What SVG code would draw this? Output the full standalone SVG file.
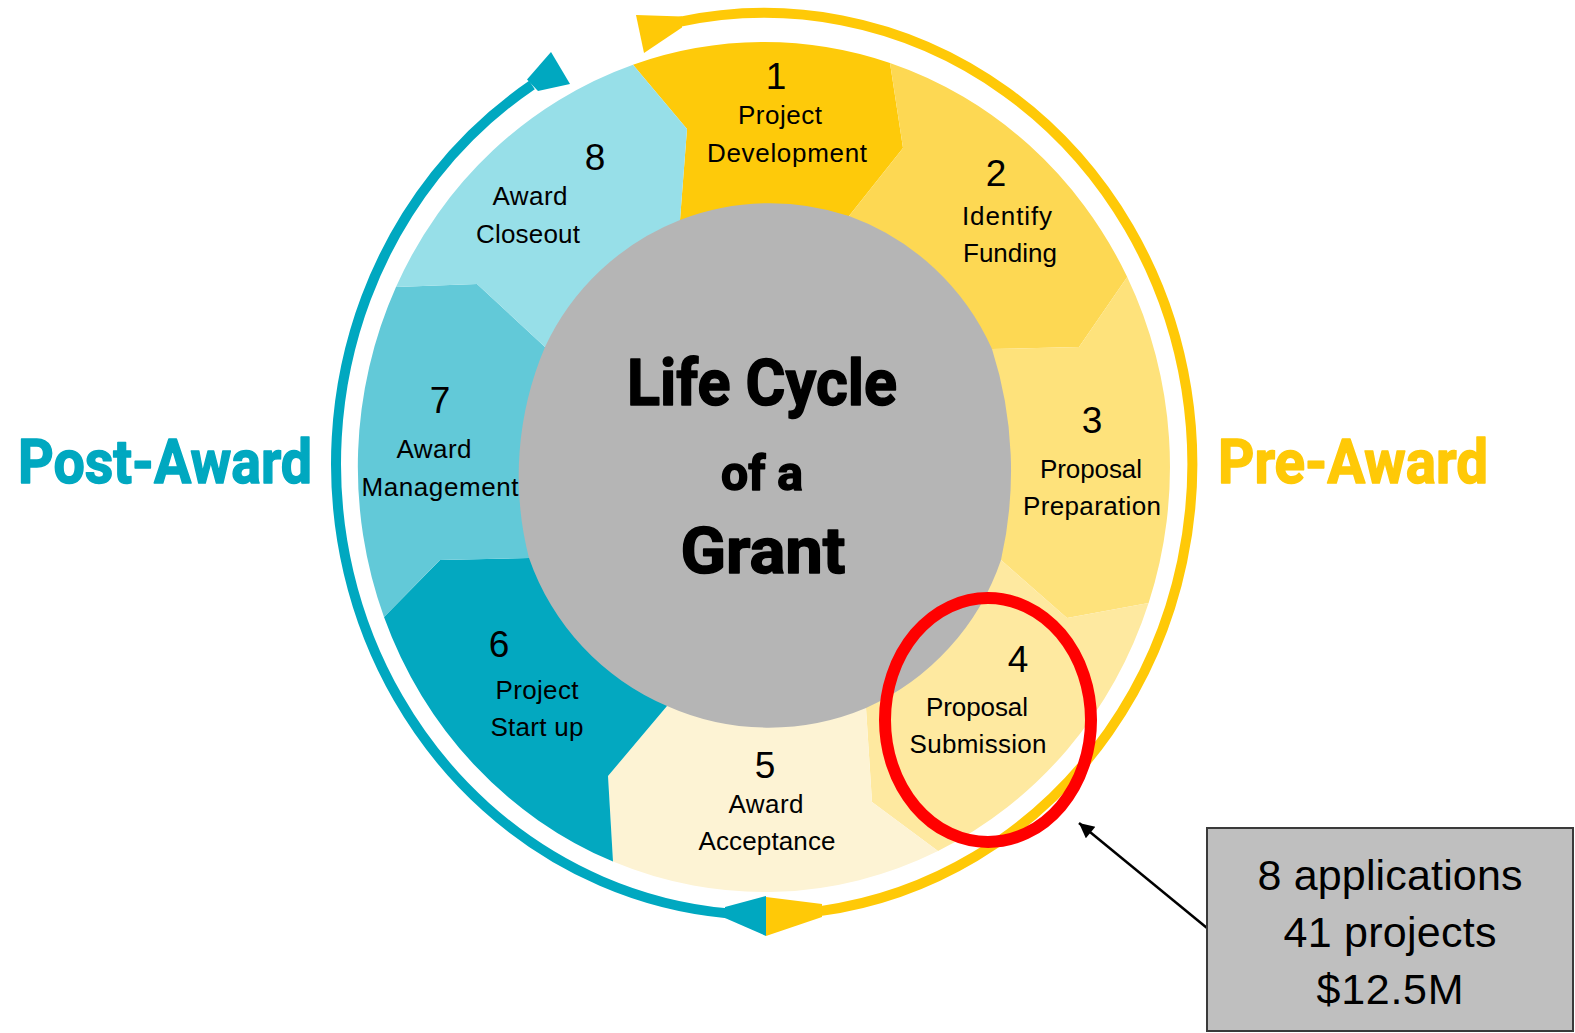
<svg xmlns="http://www.w3.org/2000/svg" width="1575" height="1033" viewBox="0 0 1575 1033">
<defs>
<style>
.lbl{font-family:"Liberation Sans",Arial,sans-serif;font-size:26px;fill:#000;text-anchor:middle}
.num{font-family:"Liberation Sans",Arial,sans-serif;font-size:37px;fill:#000;text-anchor:middle}
.title{font-family:Roboto,"Liberation Sans",Arial,sans-serif;font-weight:700;fill:#000;stroke:#000;stroke-width:1.5;stroke-linejoin:round;text-anchor:middle}
.side{font-family:Roboto,"Liberation Sans",Arial,sans-serif;font-weight:700;font-size:62px;stroke-width:1.5;stroke-linejoin:round;text-anchor:middle}
.box{font-family:"Liberation Sans",Arial,sans-serif;font-size:43px;fill:#000;text-anchor:middle}
.arc{fill:none;stroke-width:10}
</style>
<marker id="ah" viewBox="0 0 10 10" refX="10" refY="5" markerWidth="7" markerHeight="6" markerUnits="strokeWidth" orient="auto">
<path d="M0,0 L10,5 L0,10 Z" fill="#000"/>
</marker>
</defs>
<rect width="1575" height="1033" fill="#fff"/>

<g id="node-1"><path d="M633,64.7 A406,425 0 0 1 890,63 L903,148 L849,216 L763,467 L680,220 L687,129 Z" fill="#FECA0A"/></g>
<g id="node-2"><path d="M890,63 A406,425 0 0 1 1127.2,277 L1079,347 L992,349 L763,467 L849,216 L903,148 Z" fill="#FDD853"/></g>
<g id="node-3"><path d="M1127.2,277 A406,425 0 0 1 1148.6,603 L1067,618 L1001,560 L763,467 L992,349 L1079,347 Z" fill="#FEE27B"/></g>
<g id="node-4"><path d="M1148.6,603 A406,425 0 0 1 938,851 L872,802 L866,708 L763,467 L1001,560 L1067,618 Z" fill="#FEE9A0"/></g>
<g id="node-5"><path d="M938,851 A406,425 0 0 1 613,861.6 L608,776 L667,706 L763,467 L866,708 L872,802 Z" fill="#FDF3D4"/></g>
<g id="node-6"><path d="M613,861.6 A406,425 0 0 1 384,617 L440,560 L529,558 L763,467 L667,706 L608,776 Z" fill="#03A8C0"/></g>
<g id="node-7"><path d="M384,617 A406,425 0 0 1 396,287 L477,284 L545,347 L763,467 L529,558 L440,560 Z" fill="#62C9D8"/></g>
<g id="node-8"><path d="M396,287 A406,425 0 0 1 633,64.7 L687,129 L680,220 L763,467 L545,347 L477,284 Z" fill="#97DFE8"/></g>

<g id="center">
<path d="M680,220 A250,250 0 0 1 849,216 A250,250 0 0 1 992,349 A400,400 0 0 1 1001,560 A250,250 0 0 1 866,708 A250,250 0 0 1 667,706 A250,250 0 0 1 529,558 A330,330 0 0 1 545,347 A250,250 0 0 1 680,220 Z" fill="#B5B5B5"/>
<text class="title" x="762" y="405" font-size="64" textLength="270" lengthAdjust="spacingAndGlyphs">Life Cycle</text>
<text class="title" x="762" y="490" font-size="48" textLength="82" lengthAdjust="spacingAndGlyphs">of a</text>
<text class="title" x="763" y="573" font-size="64" textLength="165" lengthAdjust="spacingAndGlyphs">Grant</text>
</g>

<g id="labels">
<text class="num" x="776" y="89">1</text>
<text class="lbl" x="780" y="124" textLength="84">Project</text>
<text class="lbl" x="787" y="162" textLength="160">Development</text>
<text class="num" x="996" y="186">2</text>
<text class="lbl" x="1007" y="225" textLength="90">Identify</text>
<text class="lbl" x="1010" y="262" textLength="94">Funding</text>
<text class="num" x="1092" y="433">3</text>
<text class="lbl" x="1091" y="478" textLength="102">Proposal</text>
<text class="lbl" x="1092" y="515" textLength="138">Preparation</text>
<text class="num" x="1018" y="672">4</text>
<text class="lbl" x="977" y="716" textLength="102">Proposal</text>
<text class="lbl" x="978" y="753" textLength="137">Submission</text>
<text class="num" x="765" y="778">5</text>
<text class="lbl" x="766" y="813" textLength="75">Award</text>
<text class="lbl" x="767" y="850" textLength="137">Acceptance</text>
<text class="num" x="499" y="657">6</text>
<text class="lbl" x="537" y="699" textLength="83">Project</text>
<text class="lbl" x="537" y="736" textLength="93">Start up</text>
<text class="num" x="440" y="413">7</text>
<text class="lbl" x="434" y="458" textLength="75">Award</text>
<text class="lbl" x="440" y="496" textLength="157">Management</text>
<text class="num" x="595" y="170">8</text>
<text class="lbl" x="530" y="205" textLength="75">Award</text>
<text class="lbl" x="528" y="243" textLength="104">Closeout</text>
</g>

<g id="connectors">
<path class="arc" stroke="#FFC907" d="M678,22.2 A428,451 0 1 1 820,911.1"/>
<polygon fill="#FFC907" points="636,15 644,53 682,27.5 682,16.5"/>
<polygon fill="#FFC907" points="766,897 822,904 822,917 766,936"/>
<path class="arc" stroke="#00A8C0" d="M727,913.3 A428,451 0 0 1 532,85"/>
<polygon fill="#00A8C0" points="527,79.5 551,52 570,84 538,91"/>
<polygon fill="#00A8C0" points="725,907 766,896 766,936 725,918"/>
<line x1="1207" y1="928" x2="1079" y2="823" stroke="#000" stroke-width="2.5" marker-end="url(#ah)"/>
</g>

<g id="highlight">
<ellipse cx="988" cy="720" rx="103" ry="122" fill="none" stroke="#FF0000" stroke-width="12"/>
</g>

<g id="post-award"><text class="side" x="165" y="483" fill="#00A8C0" stroke="#00A8C0" textLength="294" lengthAdjust="spacingAndGlyphs">Post-Award</text></g>
<g id="pre-award"><text class="side" x="1353" y="483" fill="#FFC907" stroke="#FFC907" textLength="270" lengthAdjust="spacingAndGlyphs">Pre-Award</text></g>

<g id="callout">
<rect x="1207" y="828" width="366" height="203" fill="#BFBFBF" stroke="#3A3A3A" stroke-width="2"/>
<text class="box" x="1390" y="890" textLength="265">8 applications</text>
<text class="box" x="1390" y="947" textLength="213">41 projects</text>
<text class="box" x="1390" y="1004" textLength="147">$12.5M</text>
</g>
</svg>
